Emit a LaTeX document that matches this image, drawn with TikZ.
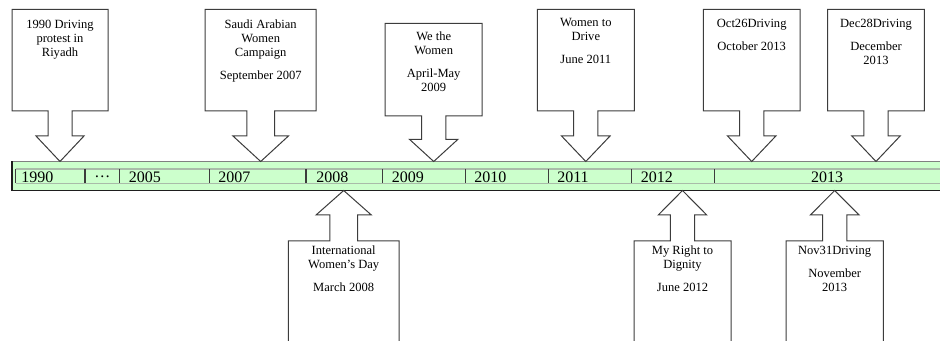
\documentclass[tikz,border=0pt]{standalone}
\usepackage{fontspec}
\setmainfont{Liberation Serif}
\usepackage{tikz}
\usetikzlibrary{positioning}

\definecolor{barfill}{HTML}{CCFFCC}
\definecolor{bandline}{HTML}{A9BBA9}
\definecolor{bartop}{HTML}{808080}
\definecolor{barframe}{HTML}{1E1E1E}
\definecolor{outline}{HTML}{3C3C3C}

% callout over the bar: centre, half width, box top, box bottom, head base
\newcommand{\downcallout}[5]{%
  \draw[callout] ({#1-#2},#3) -- ({#1+#2},#3) -- ({#1+#2},#4) -- ({#1+#2/4},#4)
    -- ({#1+#2/4},#5) -- ({#1+#2/2},#5) -- (#1,161.5) -- ({#1-#2/2},#5)
    -- ({#1-#2/4},#5) -- ({#1-#2/4},#4) -- ({#1-#2},#4) -- cycle;}
% callout under the bar: centre, half width, box top, head base
\newcommand{\upcallout}[4]{%
  \draw[callout] ({#1-#2},343) -- ({#1-#2},#3) -- ({#1-#2/4},#3) -- ({#1-#2/4},#4)
    -- ({#1-#2/2},#4) -- (#1,190.5) -- ({#1+#2/2},#4) -- ({#1+#2/4},#4)
    -- ({#1+#2/4},#3) -- ({#1+#2},#3) -- ({#1+#2},343);}

\begin{document}
\begin{tikzpicture}[
    x=0.75pt, y=-0.75pt,
    callout/.style={draw=outline, fill=white, line width=0.75pt},
    ctext/.style={anchor=north, align=center, inner sep=0pt, font=\fontsize{9.4}{10.5}\selectfont},
    year/.style={anchor=west, inner sep=0pt, font=\fontsize{12}{14}\selectfont}
]
\useasboundingbox (0,0) rectangle (940,341);

% Timeline bar
\fill[barfill] (12,161.5) rectangle (942,190.5);
\draw[bartop, line width=1pt] (12,161.5) -- (942,161.5);
\draw[barframe, line width=0.9pt] (12,161.5) -- (12,190.5) -- (942,190.5);
\draw[bandline, line width=0.9pt] (15.5,169) -- (942,169) (15.5,183.3) -- (942,183.3);
\draw[outline, line width=0.9pt] (15.5,169) -- (15.5,183.3)
    (85,169) -- (85,183.3) (119.3,169) -- (119.3,183.3)
    (209.3,169) -- (209.3,183.3) (306,169) -- (306,183.3)
    (382.3,169) -- (382.3,183.3) (465.7,169) -- (465.7,183.3)
    (548.3,169) -- (548.3,183.3) (631.7,169) -- (631.7,183.3)
    (714.3,169) -- (714.3,183.3);

% Years
\node[year] (y1990) at (21,177) {1990};
\node[year] (ydots) at (94,177) {…};
\node[year] (y2005) at (128.5,177) {2005};
\node[year] (y2007) at (218,177) {2007};
\node[year] (y2008) at (316,177) {2008};
\node[year] (y2009) at (391.5,177) {2009};
\node[year] (y2010) at (474,177) {2010};
\node[year] (y2011) at (557,177) {2011};
\node[year] (y2012) at (640.5,177) {2012};
\node[year, anchor=center] (y2013) at (827,177) {2013};

% Callouts above
\downcallout{60}{48}{9.3}{111}{136}
\downcallout{260.7}{55.5}{9.3}{111}{136}
\downcallout{433.7}{48.5}{23.3}{116}{139.3}
\downcallout{585.8}{48.5}{9.3}{111}{136}
\downcallout{751.7}{48.3}{9.3}{111}{136}
\downcallout{876}{48.3}{9.3}{111}{136}

\node[ctext] (riyadh) at (60,19.5) {1990 Driving\\protest in\\Riyadh};
\node[ctext] (saudi) at (260.7,19.5) {Saudi Arabian\\Women\\Campaign\\[6.75pt]September 2007};
\node[ctext] (wethe) at (433.7,31.5) {We the\\Women\\[6.75pt]April-May\\2009};
\node[ctext] (drive) at (585.8,18.5) {Women to\\Drive\\[6.75pt]June 2011};
\node[ctext] (oct26) at (751.7,18.5) {Oct26Driving\\[6.75pt]October 2013};
\node[ctext] (dec28) at (876,18.5) {Dec28Driving\\[6.75pt]December\\2013};

% Callouts below
\upcallout{343.7}{55.3}{241}{215}
\upcallout{682.5}{48.5}{241}{215}
\upcallout{834.7}{48.7}{241}{215}

\node[ctext] (womday) at (343.7,246) {International\\Women’s Day\\[6.75pt]March 2008};
\node[ctext] (dignity) at (682.5,246) {My Right to\\Dignity\\[6.75pt]June 2012};
\node[ctext] (nov31) at (834.7,246) {Nov31Driving\\[6.75pt]November\\2013};

\end{tikzpicture}
\end{document}
